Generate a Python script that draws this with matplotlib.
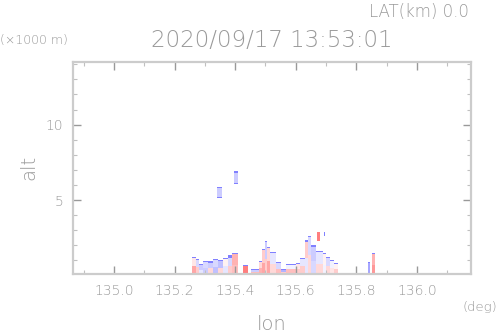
import numpy as np
import matplotlib
matplotlib.use("Agg")
import matplotlib.pyplot as plt
from matplotlib.ticker import MultipleLocator

# low-level echo columns: lon start, lon end, echo top (km), lower value, upper value
col_lon0 = [135.257, 135.270, 135.280, 135.294, 135.310, 135.327, 135.345, 135.360,
            135.375, 135.389, 135.426, 135.452, 135.478, 135.488, 135.497, 135.505,
            135.515, 135.535, 135.550, 135.568, 135.600, 135.614, 135.630, 135.640,
            135.650, 135.667, 135.690, 135.700, 135.713, 135.725, 135.838, 135.851]
col_lon1 = [135.270, 135.280, 135.294, 135.310, 135.327, 135.345, 135.360, 135.375,
            135.389, 135.409, 135.442, 135.478, 135.488, 135.497, 135.505, 135.515,
            135.535, 135.550, 135.568, 135.600, 135.614, 135.630, 135.640, 135.650,
            135.667, 135.690, 135.700, 135.713, 135.725, 135.739, 135.845, 135.861]
col_top = [1.25, 1.15, 0.75, 1.0, 0.95, 1.15, 1.05, 1.2,
           1.3, 1.45, 0.7, 0.45, 1.0, 1.75, 2.3, 1.9,
           1.55, 0.9, 0.45, 0.8, 0.85, 1.2, 2.35, 2.6,
           2.0, 1.6, 1.45, 1.25, 1.05, 0.85, 0.9, 1.45]
col_low = [0.35, 0.2, -0.1, -0.2, 0.15, -0.25, 0.15, -0.1,
           0.2, 0.25, 0.5, 0.25, 0.3, 0.35, 0.2, 0.35,
           0.15, 0.25, 0.2, 0.25, 0.2, 0.2, -0.1, 0.15,
           -0.15, 0.15, -0.05, 0.15, 0.1, 0.2, -0.35, 0.4]
col_up = [0.1, -0.15, -0.2, -0.15, -0.2, -0.15, -0.25, 0.05,
          -0.15, 0.3, 0.5, -0.2, 0.15, 0.2, -0.2, 0.15,
          -0.1, -0.15, -0.3, -0.05, 0.1, -0.1, 0.2, -0.15,
          -0.2, -0.1, 0.05, -0.15, -0.05, 0.05, -0.35, 0.3]

# elevated echoes: lon start, lon end, bottom, top, value
blob_lon0 = [135.340, 135.396, 135.670, 135.692]
blob_lon1 = [135.356, 135.409, 135.680, 135.697]
blob_bot = [5.1, 6.1, 2.3, 2.6]
blob_top = [5.9, 6.9, 2.9, 2.9]
blob_val = [-0.2, -0.2, 0.5, -0.5]

lon_edges = np.arange(134.865, 136.18, 0.0033)
alt_edges = np.arange(0.0, 14.3, 0.07)
lon_c = (lon_edges[:-1] + lon_edges[1:]) / 2
alt_c = (alt_edges[:-1] + alt_edges[1:]) / 2
Z = np.full((len(alt_c), len(lon_c)), np.nan)

for lo, hi, top, vl, vu in zip(col_lon0, col_lon1, col_top, col_low, col_up):
    ix = (lon_c >= lo) & (lon_c < hi)
    for j, a in enumerate(alt_c):
        if a < top:
            if a > top - 0.08:
                Z[j, ix] = -0.5
            elif a < top / 2:
                Z[j, ix] = vl
            else:
                Z[j, ix] = vu

for lo, hi, b, t, v in zip(blob_lon0, blob_lon1, blob_bot, blob_top, blob_val):
    ix = (lon_c >= lo) & (lon_c < hi)
    for j, a in enumerate(alt_c):
        if b <= a < t:
            edge = (a < b + 0.08 or a > t - 0.08) and v < 0
            Z[j, ix] = -0.5 if edge else v

fig = plt.figure(figsize=(4.98, 3.36), dpi=100)
ax = fig.add_axes([0.1466, 0.1845, 0.7992, 0.631])
ax.pcolormesh(lon_edges, alt_edges, Z, cmap="bwr", vmin=-1, vmax=1)
ax.set_xlim(134.865, 136.178)
ax.set_ylim(0.1, 14.15)

ax.xaxis.set_minor_locator(MultipleLocator(0.1))
ax.yaxis.set_minor_locator(MultipleLocator(1))
ax.set_xticks([135.0, 135.2, 135.4, 135.6, 135.8, 136.0])
ax.set_xticklabels(["135.0", "135.2", "135.4", "135.6", "135.8", "136.0"])
ax.set_yticks([5, 10])
ax.set_yticklabels(["5", "10"])
ax.tick_params(which="major", direction="in", top=True, right=True, length=6,
               width=1, color="#999999", labelsize=10, labelcolor="#999999", pad=7)
ax.tick_params(which="minor", direction="in", top=True, right=True, length=3,
               width=0.8, color="#c0c0c0")
for lab in ax.get_xticklabels() + ax.get_yticklabels():
    lab.set_fontweight("light")
for s in ax.spines.values():
    s.set_color("#cccccc")
    s.set_linewidth(1.6)

tc = "#999999"
kw = dict(color=tc, fontweight="light")
fig.text(0.546, 0.88, "2020/09/17 13:53:01", ha="center", va="center", fontsize=16.5, **kw)
fig.text(0.942, 0.965, "LAT(km) 0.0", ha="right", va="center", fontsize=12, **kw)
fig.text(0.0, 0.88, "(\u00d71000 m)", ha="left", va="center", fontsize=9, **kw)
fig.text(0.999, 0.086, "(deg)", ha="right", va="center", fontsize=9.5, **kw)
fig.text(0.546, 0.035, "lon", ha="center", va="center", fontsize=14, **kw)
fig.text(0.058, 0.503, "alt", ha="center", va="center", fontsize=14, rotation=90, **kw)

fig.savefig("out.png", dpi=100)
